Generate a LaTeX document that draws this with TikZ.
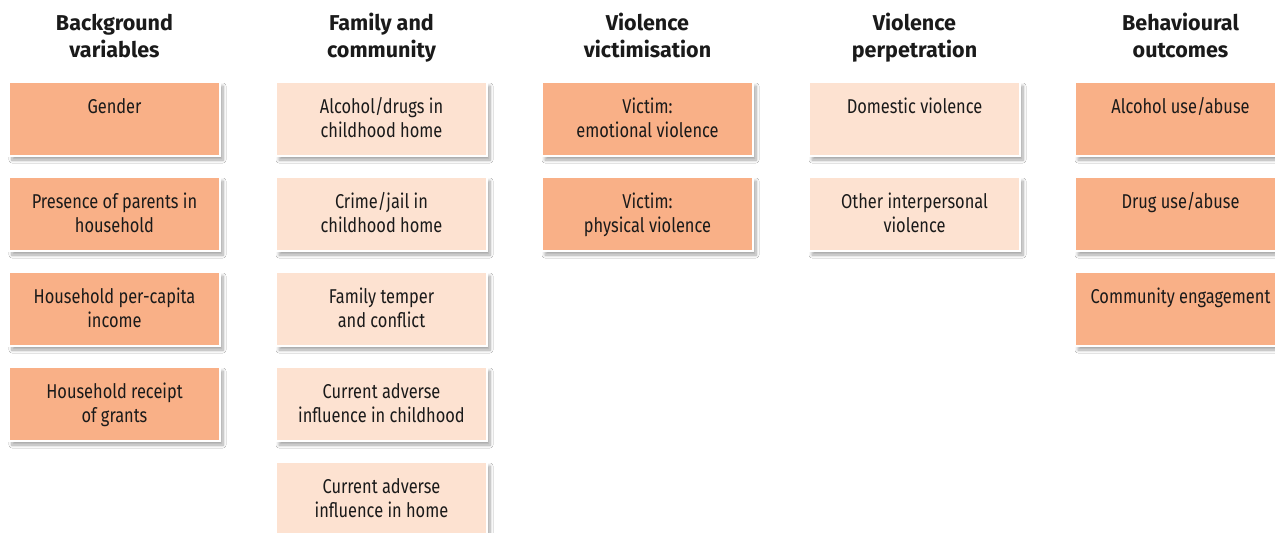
\documentclass[tikz,border=0pt]{standalone}
\usepackage{fontspec}
\setmainfont{Fira Sans}[FakeStretch=0.82]
\newfontfamily\headfont{Fira Sans}[BoldFont={Fira Sans Bold}]
\usetikzlibrary{shadows.blur}
\definecolor{darkbox}{HTML}{F9B087}
\definecolor{lightbox}{HTML}{FDE2D1}
\definecolor{inktext}{HTML}{1A1A1A}
\newcommand{\twoln}[2]{\strut #1\\#2\strut}
\newcommand{\boxln}[2]{\rule{0pt}{20.8pt}#1\\#2\strut}
\tikzset{
  cbox/.style={rectangle, minimum width=211pt, minimum height=74pt, inner sep=0pt,
    align=center, draw=white, line width=1.5pt, text=inktext,
    font=\fontsize{20}{24}\selectfont,
    blur shadow={shadow xshift=3pt, shadow yshift=-4pt, shadow blur steps=8, shadow opacity=35, shadow blur radius=3pt}},
  dbox/.style={cbox, fill=darkbox},
  lbox/.style={cbox, fill=lightbox},
  headnode/.style={align=center, text=inktext, inner sep=0pt, font=\headfont\bfseries\fontsize{21.5}{27}\selectfont}
}
\begin{document}
\begin{tikzpicture}[x=1pt,y=-1pt]
\useasboundingbox[fill=white] (0,0) rectangle (1275,533);
% headers
\node[headnode] (h1) at (114.5,38.5) {\twoln{Background}{variables}};
\node[headnode] (h2) at (381.5,38.5) {\twoln{Family and}{community}};
\node[headnode] (h3) at (647.5,38.5) {\twoln{Violence}{victimisation}};
\node[headnode] (h4) at (914.5,38.5) {\twoln{Violence}{perpetration}};
\node[headnode] (h5) at (1180.5,38.5) {\twoln{Behavioural}{outcomes}};
% column 1
\node[dbox] (b1) at (114.5,119) {\boxln{Gender}{}};
\node[dbox] (b2) at (114.5,214) {\boxln{Presence of parents in}{household}};
\node[dbox] (b3) at (114.5,309) {\boxln{Household per-capita}{income}};
\node[dbox] (b4) at (114.5,404) {\boxln{Household receipt}{of grants}};
% column 2
\node[lbox] (f1) at (381.5,119) {\boxln{Alcohol/drugs in}{childhood home}};
\node[lbox] (f2) at (381.5,214) {\boxln{Crime/jail in}{childhood home}};
\node[lbox] (f3) at (381.5,309) {\boxln{Family temper}{and conflict}};
\node[lbox] (f4) at (381.5,404) {\boxln{Current adverse}{influence in childhood}};
\node[lbox] (f5) at (381.5,499) {\boxln{Current adverse}{influence in home}};
% column 3
\node[dbox] (v1) at (647.5,119) {\boxln{Victim:}{emotional violence}};
\node[dbox] (v2) at (647.5,214) {\boxln{Victim:}{physical violence}};
% column 4
\node[lbox] (p1) at (914.5,119) {\boxln{Domestic violence}{}};
\node[lbox] (p2) at (914.5,214) {\boxln{Other interpersonal}{violence}};
% column 5
\node[dbox] (o1) at (1180.5,119) {\boxln{Alcohol use/abuse}{}};
\node[dbox] (o2) at (1180.5,214) {\boxln{Drug use/abuse}{}};
\node[dbox] (o3) at (1180.5,309) {\boxln{Community engagement}{}};
\end{tikzpicture}
\end{document}
